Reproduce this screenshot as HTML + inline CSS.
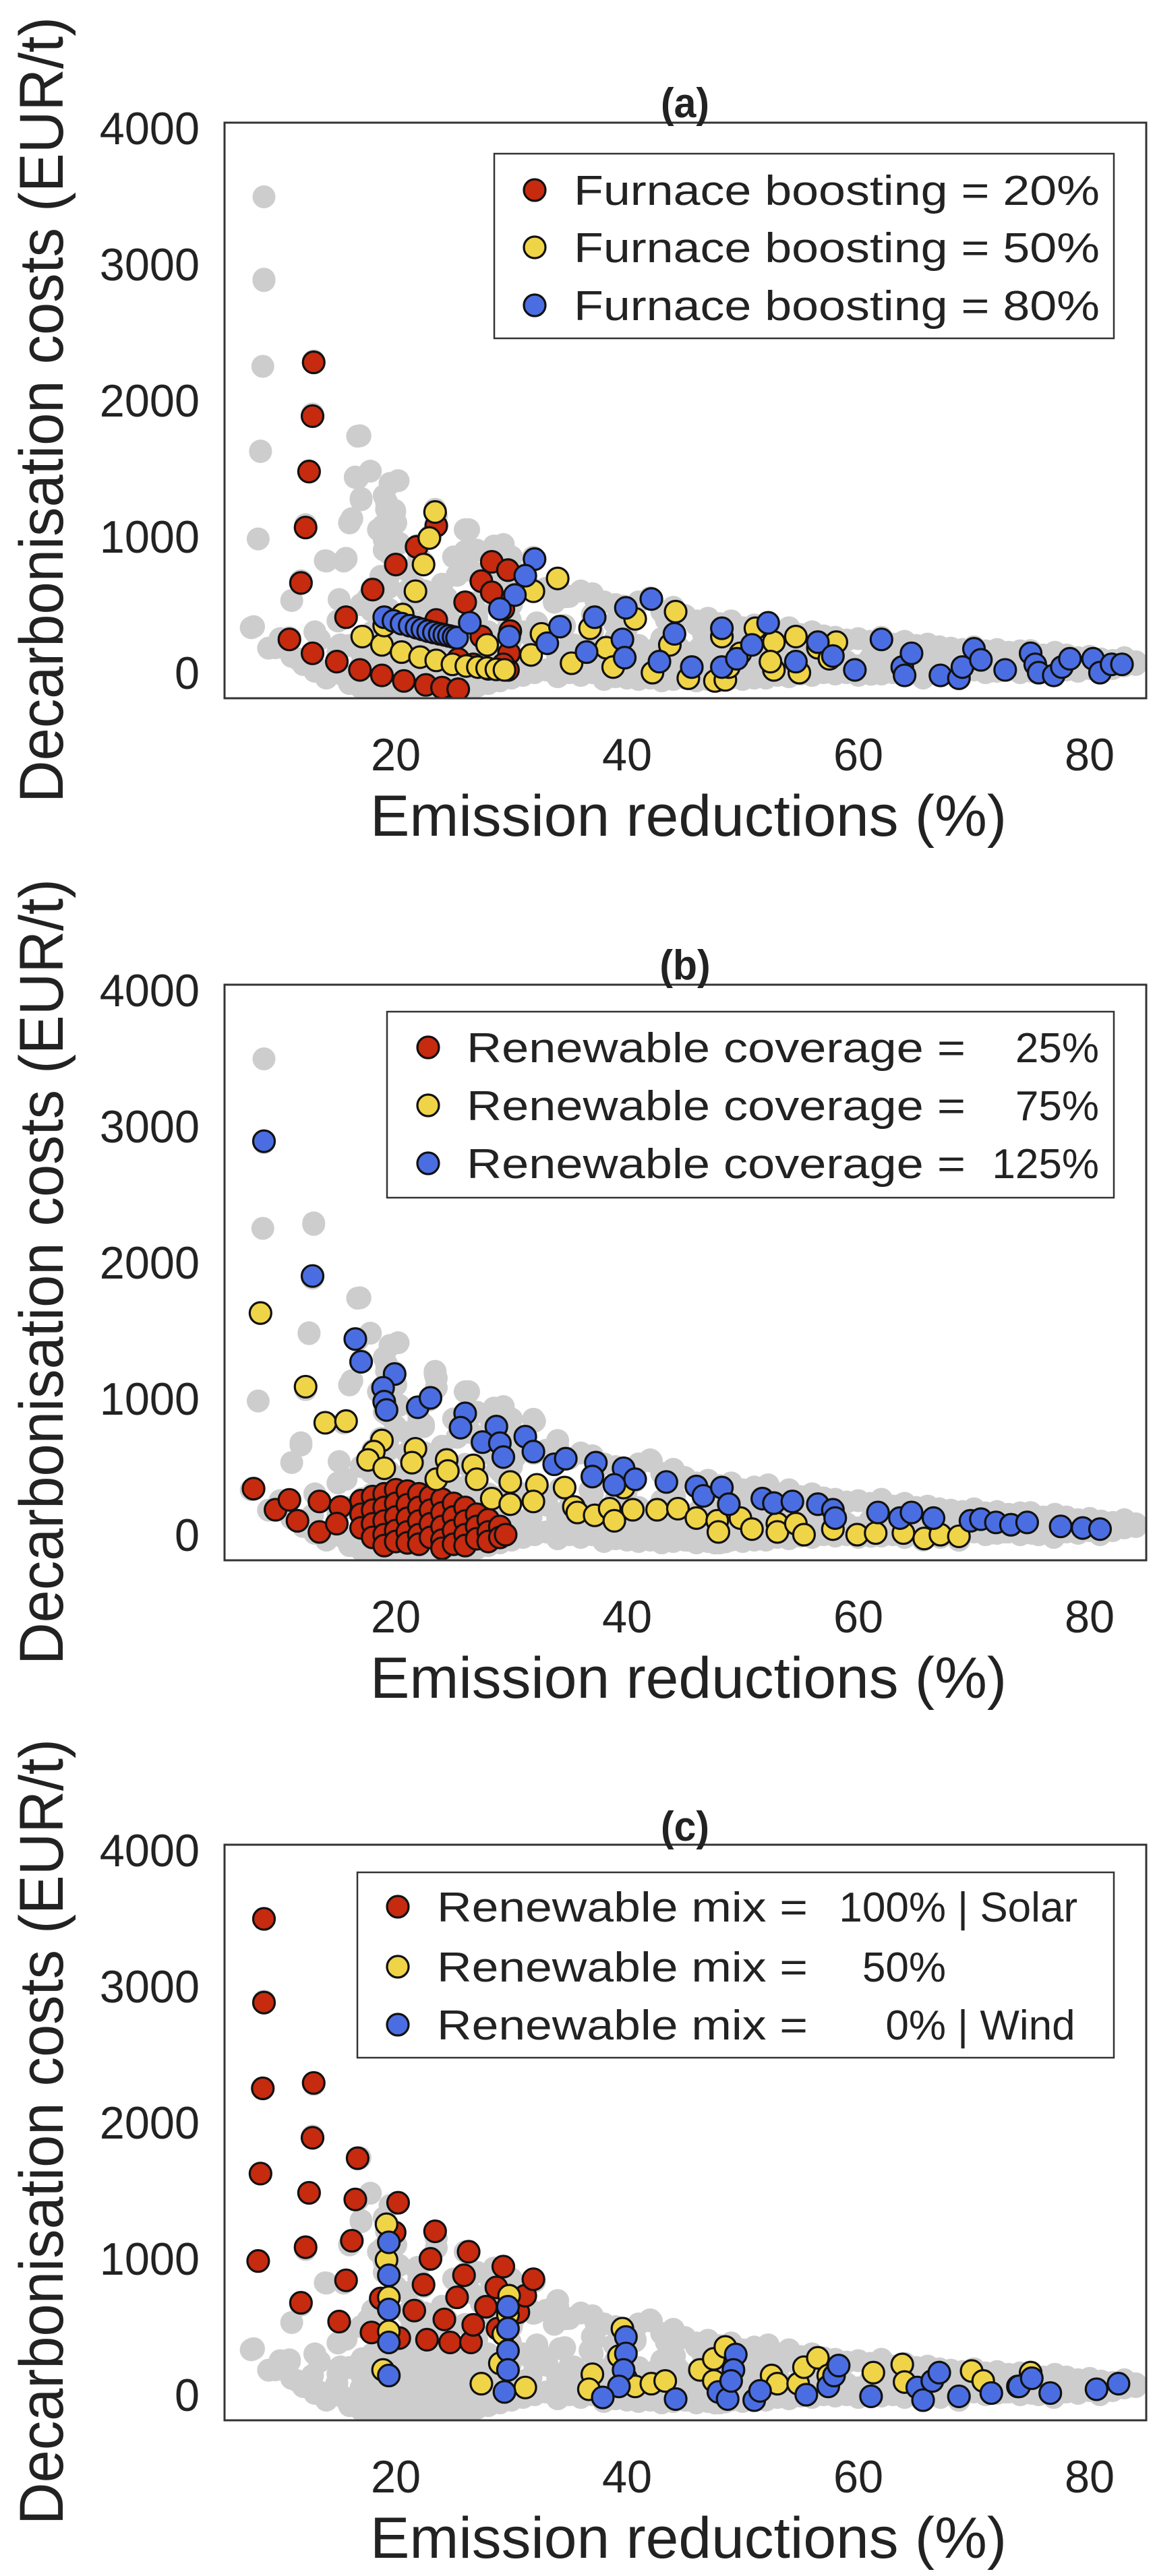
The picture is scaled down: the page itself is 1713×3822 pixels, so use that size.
<!DOCTYPE html>
<html><head><meta charset="utf-8"><title>Decarbonisation costs vs emission reductions</title>
<style>
html,body{margin:0;padding:0;background:#fff;}
svg{display:block;font-family:"Liberation Sans",Arial,sans-serif;}
</style></head>
<body>
<svg id="fig" xmlns="http://www.w3.org/2000/svg" width="1713" height="3822" viewBox="0 0 1713 3822"></svg>
<script>
// ---------- DATA ----------
const xTicks = [20, 40, 60, 80];
const yTicks = [0, 1000, 2000, 3000, 4000];
const panelTitles = ["(a)", "(b)", "(c)"];

const greyX = [16.9,17.8,16.7,17,19,19.5,19.2,18.5,19,16,15.5,14,20,20.3,21,22,23.5,25,26,27,28.5,26.5,24,22.5,21,18,17,15,13,11,10,9,11,12,13,14,15.5,16,17,18,19,20,21,22,23,24,25,26,27,28,29,30,31,32,33,34,35,36,37,38,39,40,41,42,43,44,45,46,47,48,49,50,51,52,53,54,55,56,57,58,59,60,61,62,63,64,65,66,67,68,69,70,71,72,73,74,75,76,77,78,79,80,81,82,83,84,30,31,32,33,34,35,36,37,38,39,40,41,42,43,44,45,46,47,48,49,50,51,52,53,54,55,56,57,58,59,60,61,62,63,64,65,66,67,68,69,70,71,72,73,74,75,76,77,78,79,80,81,82,83,84,31,33,35,37,39,41,43,45,47,49,51,53,55,57,59,61,63,65,67,69,71,73,75,77,79,81,31,34,36,38,40,42,44,46,48,50,52,54,56,58,60,62,64,66,68,70,72,74,76,78,80,82,15,16,17,18,19,20,21,22,23,24,25,26,27,28,29,30,22,24,26,28,18,20,23,25,27,7.5];
const greyY = [1740,1480,1430,1280,1300,1390,1200,1050,900,1100,820,820,1100,950,750,850,1150,850,1050,900,930,750,650,600,600,620,500,380,300,530,250,180,120,60,10,-40,-20,-80,-110,-140,-150,-130,-150,-140,-160,-150,-170,-120,-100,-80,-60,-40,-20,0,20,-30,0,-20,0,-50,-30,-40,-50,-40,-60,-50,-40,-60,-50,-60,-40,-50,-30,-40,-20,-30,-10,-20,0,-10,0,-20,10,-10,0,-10,10,0,-10,10,0,20,0,10,20,0,10,20,0,20,10,30,20,40,50,60,850,700,600,620,650,560,600,580,520,500,480,520,550,450,480,420,380,400,360,380,330,350,320,300,330,280,300,270,260,240,250,230,260,210,230,200,210,190,180,170,190,160,170,150,160,140,130,150,130,110,120,100,90,110,80,300,250,200,300,250,200,250,150,200,150,120,150,100,120,80,100,70,90,60,80,60,70,50,60,50,60,100,120,80,120,100,80,100,60,80,50,70,40,60,30,50,40,60,30,50,40,50,30,50,40,50,30,150,200,0,300,-50,300,400,-30,450,300,-50,350,450,300,200,500,350,500,250,150,150,100,50,100,0,330];

// Panel (a): furnace boosting
const a20X = [12.9,12.8,12.5,12.2,11.8,10.8,12.8,14.9,16.9,18.8,20.7,22.6,24,25.4,15.7,18,20,21.8,23.5,26,27.4,28.3,29.7,29.3,29.9,29.8,29.7,23.5,27.4,28.3,29.3,25.4,26.7,28];
const a20Y = [2279,1884,1477,1066,659,244,142,81,20,-20,-61,-90,-110,-122,407,610,794,924,1079,517,672,814,753,468,305,142,20,387,265,590,61,100,61,28];
const a50X = [23.4,22.9,22.4,21.7,17.1,18.8,20.5,22.1,23.5,24.9,26.1,27.1,27.9,28.7,29.4,27.9,31.7,31.9,34,32.6,35.2,36.8,38.2,38.8,40.7,42.2,44.2,43.7,45.3,47.6,48.5,48.2,49.8,51.1,52.7,52.7,54.6,54.9,56.5,57.5,58.1,48.8,52.4,20.6,19];
const a50Y = [1180,989,794,598,265,204,151,114,90,61,49,41,33,24,20,204,130,598,692,285,69,326,183,41,395,0,448,204,-41,-61,-53,265,142,326,224,20,265,0,183,102,224,41,81,427,346];
const a80X = [19,19.8,20.5,21.2,21.8,22.3,22.8,23.3,23.8,24.2,24.6,25,25.3,32,31.2,30.3,29,26.4,29.8,33.1,34.2,36.5,37.2,39.6,39.8,39.9,42.1,42.8,44.1,45.6,48.2,48.2,49.5,50.8,52.2,54.6,56.5,57.8,59.7,62,63.8,64.6,64,67.1,68.7,69,70,70.6,72.7,74.9,75.3,75.6,76.9,77.6,78.3,80.3,80.9,81.9,82.8];
const a80Y = [407,380,360,345,330,318,305,295,285,278,270,262,256,834,712,570,468,366,265,216,338,151,407,244,110,476,541,81,285,41,326,41,102,204,366,81,224,122,20,244,41,142,-20,-20,-41,41,175,94,20,142,61,0,-20,41,102,102,0,61,61];

// Panel (b): renewable coverage
const b25X = [7.7,9.6,10.8,11.5,13.4,13.4,15.2,14.9,17,17,17,18,18,18,18,19,19,19,19,19,20,20,20,20,20,21,21,21,21,21,22,22,22,22,22,23,23,23,23,24,24,24,24,24,25,25,25,25,26,26,26,26,27,27,27,28,28,28,29,29,29.5];
const b25Y = [338,183,256,102,244,20,204,81,250,150,50,280,180,80,-20,300,200,100,0,-80,330,230,130,30,-50,320,220,120,20,-60,300,200,100,0,-70,280,180,80,-20,260,160,60,-40,-100,230,130,30,-70,200,100,0,-80,150,60,-30,110,20,-50,60,-20,0];
const b75X = [8.3,12.2,13.9,15.7,18.8,18.1,17.6,19,21.7,21.4,23.5,24.4,24.5,26.7,27,28.3,29.9,29.9,32.2,31.9,34.6,35.4,35.7,37.2,38.5,38.9,39.7,40.5,42.6,44.4,46,47.8,47.9,49.8,50.8,53,53,54.6,55.3,57.8,59.9,61.5,63.9,65.7,67.1,68.7];
const b75Y = [1628,1087,822,834,692,610,549,488,631,529,407,549,468,509,407,265,387,224,366,244,346,204,163,142,191,102,346,183,183,191,122,102,20,122,41,81,20,81,0,41,0,12,12,-28,0,-12];
const b125X = [8.6,12.8,16.5,17,19.9,18.9,19,19.2,21.9,23,26,25.6,28.7,27.5,29,29.3,31.2,31.9,33.7,34.7,37.3,37,39.7,40.7,38.9,43.4,46,46.6,48.2,48.8,51.7,52.7,54.3,56.5,57.8,58,61.7,63.6,64.6,66.5,69.7,70.6,71.9,73.2,74.6,77.5,79.4,80.9];
const b125Y = [2890,1900,1437,1270,1180,1079,977,916,936,1005,891,786,794,680,672,570,720,610,517,558,529,427,488,407,366,387,354,285,346,224,265,232,244,224,183,122,163,122,163,122,102,114,90,73,90,61,49,41];

// Panel (c): renewable mix
const c100X = [8.6,8.6,8.5,8.3,8.1,12.9,12.8,12.5,12.2,11.8,16.7,16.5,16.2,15.7,15.1,20.2,19.9,18.7,17.9,20.3,23.4,23,22.4,21.6,22.7,24.7,24.2,25.3,25.9,26.3,26.5,26.7,27.8,28.7,28.8,29.3,30.6,31.2,31.9];
const c100Y = [3495,2880,2250,1624,982,2290,1887,1483,1083,675,1737,1434,1131,840,537,1410,1192,707,457,416,1200,998,808,618,404,384,553,715,877,1050,384,513,646,788,485,941,606,727,848];
const c50X = [19.2,19.2,19.4,19.4,18.9,29.8,29.7,29.3,29,27.4,31.2,37,36.7,39.6,39.3,39.9,40.7,42.1,43.3,46.3,47.5,48.5,47.5,52.5,53,54.8,55.3,56.5,57.4,61.3,63.8,64,69.8,70.8,74.9,73.8];
const c50Y = [1252,990,715,465,182,727,586,444,230,81,53,150,40,485,283,121,61,81,101,182,263,351,101,141,81,81,202,271,141,162,222,93,174,101,162,61];
const c0X = [19.4,19.4,19.4,19.4,19.4,29.7,29.7,29.7,29.7,29.4,39.9,39.9,39.7,39.3,37.9,44.2,47.9,48.7,49.4,49.2,49,51,51.5,55.5,57.4,57.9,58.3,61.1,65.1,65.6,66.4,67,68.7,71.5,73.9,75,76.6,80.6,82.5];
const c0Y = [1119,877,626,384,141,646,485,323,182,20,424,303,182,61,-20,-32,20,-32,295,182,101,-40,28,0,61,141,214,-12,53,-40,101,162,-12,12,61,121,12,40,81];

// ---------- DRAWING ----------
const NS = "http://www.w3.org/2000/svg";
const svg = document.getElementById("fig");
const RED = "#c62a0f", YEL = "#f0d447", BLU = "#4a6ee2", GRY = "#cdcdcd";
const R = 17;
const panelOffsets = [0, 1279, 2555];
const X0 = 333, X1 = 1700, YT = 182, YB = 1036;
function sx(v){ return 587 + (v - 20) * 17.15; }
function sy(v, off){ return off + 998 - v * 0.202; }
function mk(tag, attrs, parent){
  const e = document.createElementNS(NS, tag);
  for (const k in attrs) e.setAttribute(k, attrs[k]);
  (parent || svg).appendChild(e);
  return e;
}
function stext(str, x, y, size, anchor, parent, weight, sc){
  const t = mk("text", {transform:`translate(${x},${y}) scale(${sc||1},1)`, x:0, y:0, "font-size":size, "text-anchor":anchor, fill:"#222"}, parent);
  if (weight) t.setAttribute("font-weight", weight);
  t.textContent = str;
  return t;
}

const legends = [
  [["Furnace boosting = 20%", RED], ["Furnace boosting = 50%", YEL], ["Furnace boosting = 80%", BLU]],
  [["Renewable coverage =", "25%", RED], ["Renewable coverage =", "75%", YEL], ["Renewable coverage =", "125%", BLU]],
  [["Renewable mix =", "100%", "| Solar", RED], ["Renewable mix =", "50%", "", YEL], ["Renewable mix =", "0%", "| Wind", BLU]]
];
const series = [
  [[a20X,a20Y,RED,"series-furnace-20"],[a50X,a50Y,YEL,"series-furnace-50"],[a80X,a80Y,BLU,"series-furnace-80"]],
  [[b25X,b25Y,RED,"series-coverage-25"],[b75X,b75Y,YEL,"series-coverage-75"],[b125X,b125Y,BLU,"series-coverage-125"]],
  [[c100X,c100Y,RED,"series-mix-solar"],[c50X,c50Y,YEL,"series-mix-50"],[c0X,c0Y,BLU,"series-mix-wind"]]
];
const allGreyX = greyX.concat(a20X,a50X,a80X,b25X,b75X,b125X,c100X,c50X,c0X);
const allGreyY = greyY.concat(a20Y,a50Y,a80Y,b25Y,b75Y,b125Y,c100Y,c50Y,c0Y);

panelOffsets.forEach((off, p) => {
  const g = mk("g", {});
  
  

  const clipId = "clip" + p;
  const cp = mk("clipPath", {id: clipId}, g);
  mk("rect", {x:X0, y:off+YT, width:X1-X0, height:YB-YT}, cp);
  const plot = mk("g", {"clip-path":`url(#${clipId})`}, g);
  
  

  const gg = mk("g", {fill: GRY}, plot);
  
  
  for (let i = 0; i < allGreyX.length; i++){
    const c = mk("circle", {cx: sx(allGreyX[i]), cy: sy(allGreyY[i], off), r: R}, gg);
    
    
  }
  series[p].forEach(s => {
    const sg = mk("g", {fill: s[2], stroke:"#111", "stroke-width":3.2}, plot);
    
    
    for (let i = 0; i < s[0].length; i++){
      const c = mk("circle", {cx: sx(s[0][i]), cy: sy(s[1][i], off), r: R - 1}, sg);
      
      
    }
  });

  const box = mk("rect", {x:X0, y:off+YT, width:X1-X0, height:YB-YT, fill:"none", stroke:"#333", "stroke-width":3}, g);
  
  

  yTicks.forEach(v => {
    const t = stext(String(v), 296, sy(v, off) + 24, 68, "end", g, null, 0.98);
    
    
  });
  xTicks.forEach(v => {
    const t = stext(String(v), sx(v), off + 1143, 68, "middle", g, null, 0.98);
    
    
  });
  const xt = mk("text", {x:1021, y:off+1240, "font-size":86, "text-anchor":"middle", fill:"#222", textLength:944, lengthAdjust:"spacingAndGlyphs"}, g);
  xt.textContent = "Emission reductions (%)";
  
  
  const yt = mk("text", {transform:`translate(93,${off+608}) rotate(-90)`, x:0, y:0, "font-size":92, "text-anchor":"middle", fill:"#222", textLength:1166, lengthAdjust:"spacingAndGlyphs"}, g);
  yt.textContent = "Decarbonisation costs (EUR/t)";
  
  
  const pt = stext(panelTitles[p], 1016, off + (p === 2 ? 176 : 174), 62, "middle", g, "bold", 0.95);
  
  

  const lg = mk("g", {}, g);
  
  
  const lx = [733, 574, 530][p];
  const lyTop = [228, 222, 223][p], lyBot = [502, 498, 498][p];
  mk("rect", {x:lx, y:off+lyTop, width:1652-lx, height:lyBot-lyTop, fill:"#fff", stroke:"#333", "stroke-width":2.5}, lg);
  const rows = [[282,367,453],[275,361,447],[274,363,449]][p];
  const mx = [793, 635, 590][p];
  const tx = [851, 692, 648][p];
  legends[p].forEach((e, i) => {
    const cy = off + rows[i];
    const color = e[e.length - 1];
    const ent = mk("g", {}, lg);
    
    
    mk("circle", {cx:mx, cy:cy, r:R - 1, fill:color, stroke:"#111", "stroke-width":3.2}, ent);
    if (p === 0){
      const t = mk("text", {x:tx, y:cy+22, "font-size":62, fill:"#222", textLength:780, lengthAdjust:"spacingAndGlyphs"}, ent);
      t.textContent = e[0];
    } else if (p === 1){
      const t = mk("text", {x:tx, y:cy+22, "font-size":62, fill:"#222", textLength:740, lengthAdjust:"spacingAndGlyphs"}, ent);
      t.textContent = e[0];
      stext(e[1], 1630, cy + 22, 62, "end", ent, null, 1.0);
    } else {
      const t = mk("text", {x:tx, y:cy+22, "font-size":62, fill:"#222", textLength:550, lengthAdjust:"spacingAndGlyphs"}, ent);
      t.textContent = e[0];
      stext(e[1], 1403, cy + 22, 62, "end", ent, null, 1.0);
      if (e[2]) stext(e[2], 1420, cy + 22, 62, "start", ent, null, 1.0);
    }
  });
});
</script>
</body></html>
